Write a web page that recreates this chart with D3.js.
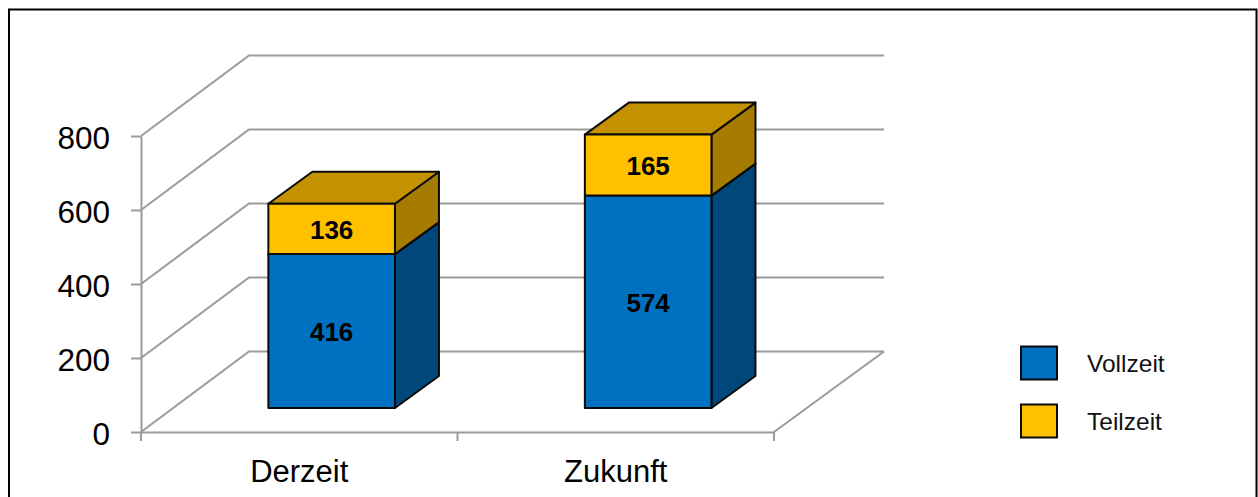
<!DOCTYPE html>
<html lang="de">
<head>
    <meta charset="UTF-8">
    <title>Vollzeit / Teilzeit</title>
</head>
<style>
    html, body {
        margin: 0;
        padding: 0;
        background: white;
    }
    svg {
        display: block;
        font-family: "Liberation Sans", sans-serif;
    }
</style>
<body>
    <div id="chart"></div>
</body>
<script src="https://d3js.org/d3.v7.min.js"></script>
<script>
    const categories = ["Derzeit", "Zukunft"]
    const seriesNames = ["Vollzeit", "Teilzeit"]
    const vollzeit = [416, 574]
    const teilzeit = [136, 165]
    const yTicks = [0, 200, 400, 600, 800]

    const colors = {
        Vollzeit: {front: "#0070c0", side: "#00487b", top: "#005a9a"},
        Teilzeit: {front: "#ffc000", side: "#a67c00", top: "#c49200"}
    }
    const grey = "#9a9a9a"

    const svg = d3.select("#chart").append("svg")
        .attr("width", 1258)
        .attr("height", 497)

    // frame runs off the bottom of the picture
    svg.append("rect")
        .attr("x", 9)
        .attr("y", 9.5)
        .attr("width", 1247.5)
        .attr("height", 520)
        .attr("fill", "white")
        .attr("stroke", "black")
        .attr("stroke-width", 2)

    const x = d3.scaleBand()
        .domain(categories)
        .range([141, 774])
        .paddingInner(0.6)
        .paddingOuter(0.3)
    const y = d3.scaleLinear().domain([0, 800]).range([432, 136])

    // 3d offsets: wall, front of the bars, bar depth
    const wall = {dx: 108, dy: -80.5, endDx: 110}
    const front = {dx: 32.4, dy: -24}
    const depth = {dx: 44, dy: -32}

    const line = d3.line()
    const grid = svg.append("g")
        .attr("fill", "none")
        .attr("stroke", grey)
        .attr("stroke-width", 2)

    yTicks.forEach(t => {
        grid.append("path").attr("d", line([
            [x.range()[0], y(t)],
            [x.range()[0] + wall.dx, y(t) + wall.dy],
            [x.range()[1] + wall.endDx, y(t) + wall.dy]
        ]))
    })
    // floor edge on the right
    grid.append("path").attr("d", line([
        [x.range()[1], y(0)],
        [x.range()[1] + wall.endDx, y(0) + wall.dy]
    ]))

    const yAxis = svg.append("g")
        .attr("transform", `translate(${x.range()[0]},0)`)
        .call(d3.axisLeft(y).tickValues(yTicks).tickSize(10).tickSizeOuter(0).tickPadding(21))
    const xAxis = svg.append("g")
        .attr("transform", `translate(0,${y(0)})`)
        .call(d3.axisBottom(x).tickSize(0).tickPadding(28))
    yAxis.selectAll("path, line").attr("stroke", grey).attr("stroke-width", 2)
    xAxis.selectAll("path").attr("stroke", grey).attr("stroke-width", 2)
    yAxis.selectAll("text")
        .attr("font-size", 31.5)
        .attr("font-family", "Liberation Sans")
        .attr("fill", "black")
        .attr("dy", "0.4em")
    xAxis.selectAll("text")
        .attr("font-size", 31)
        .attr("font-family", "Liberation Sans")
        .attr("fill", "black")

    // ticks sit between the categories
    d3.range(categories.length + 1).forEach(i => {
        const tx = x.range()[0] + i * x.step()
        xAxis.append("line")
            .attr("x1", tx).attr("x2", tx)
            .attr("y1", 0).attr("y2", 9)
            .attr("stroke", grey)
            .attr("stroke-width", 2)
    })

    const stacked = d3.stack().keys(seriesNames)(
        categories.map((c, i) => ({category: c, Vollzeit: vollzeit[i], Teilzeit: teilzeit[i]}))
    )

    const bars = svg.append("g")
        .attr("stroke", "#0b0b0b")
        .attr("stroke-width", 2)
        .attr("stroke-linejoin", "round")

    stacked.forEach(layer => {
        const c = colors[layer.key]
        layer.forEach(d => {
            const x0 = x(d.data.category) + front.dx
            const x1 = x0 + x.bandwidth()
            const yb = y(d[0]) + front.dy
            const yt = y(d[1]) + front.dy
            bars.append("path").attr("fill", c.side).attr("d", line([
                [x1, yb], [x1 + depth.dx, yb + depth.dy],
                [x1 + depth.dx, yt + depth.dy], [x1, yt]
            ]) + "Z")
            bars.append("path").attr("fill", c.top).attr("d", line([
                [x0, yt], [x0 + depth.dx, yt + depth.dy],
                [x1 + depth.dx, yt + depth.dy], [x1, yt]
            ]) + "Z")
            bars.append("rect")
                .attr("x", x0).attr("y", yt)
                .attr("width", x.bandwidth())
                .attr("height", yb - yt)
                .attr("fill", c.front)
            svg.append("text")
                .attr("x", (x0 + x1) / 2)
                .attr("y", (yb + yt) / 2 + 0.5)
                .attr("dy", "0.36em")
                .attr("text-anchor", "middle")
                .attr("font-size", 26)
                .attr("font-weight", "bold")
                .text(d[1] - d[0])
        })
    })
    // value labels were appended during the loop, keep them above the bars
    svg.selectAll("text").raise()

    const legendY = d3.scalePoint().domain(seriesNames).range([363, 421])
    const legend = svg.append("g")
    seriesNames.forEach(name => {
        legend.append("rect")
            .attr("x", 1021)
            .attr("y", legendY(name) - 16.5)
            .attr("width", 36)
            .attr("height", 33)
            .attr("fill", colors[name].front)
            .attr("stroke", "#0b0b0b")
            .attr("stroke-width", 2)
        legend.append("text")
            .attr("x", 1087)
            .attr("y", legendY(name))
            .attr("dy", "0.36em")
            .attr("font-size", 24.5)
            .attr("fill", "#111")
            .text(name)
    })
</script>
</html>
